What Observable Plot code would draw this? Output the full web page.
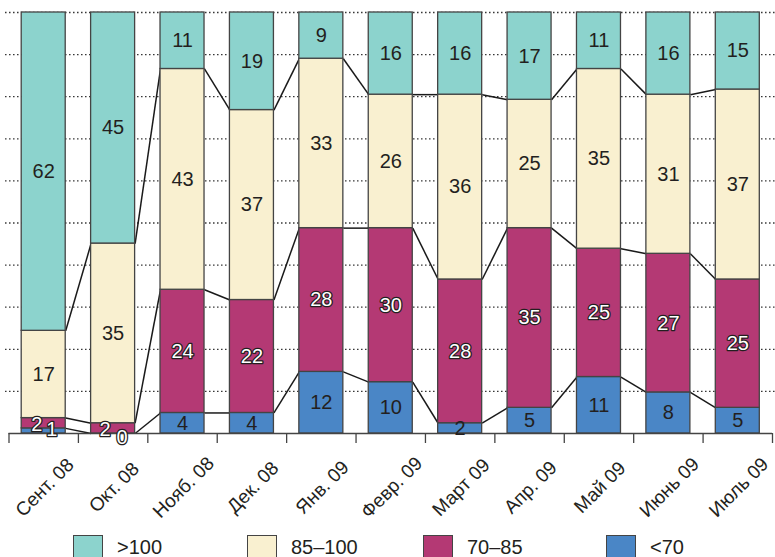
<!DOCTYPE html>
<html><head><meta charset="utf-8">
<script src="https://cdn.jsdelivr.net/npm/d3@7"></script>
<script src="https://cdn.jsdelivr.net/npm/@observablehq/plot@0.6"></script>
<style>
html,body{margin:0;padding:0;overflow:hidden;background:#fff;width:775px;height:557px;position:relative}
#chart{position:absolute;left:0;top:0}
#legend{position:absolute;top:535px;left:0;width:775px;height:40px;font-family:"Liberation Sans",Arial,sans-serif;font-size:20px;color:#231f20}
#legend .item{position:absolute;top:0;display:flex;align-items:flex-start}
#legend .sw{width:30px;height:30px;border:1.5px solid #444;box-sizing:border-box}
#legend .lb{margin-left:14px;line-height:24px}
</style>
</head><body>
<div id="chart"></div>
<div id="legend"></div>
<script>
const months = ["Сент. 08","Окт. 08","Нояб. 08","Дек. 08","Янв. 09","Февр. 09","Март 09","Апр. 09","Май 09","Июнь 09","Июль 09"];
const categories = [">100","85–100","70–85","<70"];
const below70     = [1, 0, 4, 4, 12, 10, 2, 5, 11, 8, 5];
const from70to85  = [2, 2, 24, 22, 28, 30, 28, 35, 25, 27, 25];
const from85to100 = [17, 35, 43, 37, 33, 26, 36, 25, 35, 31, 37];
const above100    = [62, 45, 11, 19, 9, 16, 16, 17, 11, 16, 15];

const colorRange = ["#8cd3cd", "#f9f0d0", "#b43974", "#4a86c6"];
const legendLeft = [73, 247, 423, 606];

const stackOrder = [["<70", below70], ["70–85", from70to85], ["85–100", from85to100], [">100", above100]];
const cum = [months.map(() => 0)];
const segments = [];
stackOrder.forEach(([cat, vals], k) => {
  const prev = cum[k];
  const next = prev.map((p, i) => p + vals[i]);
  cum.push(next);
  vals.forEach((v, i) => segments.push({i, cat, value: v, y1: prev[i], y2: next[i], mid: (prev[i] + next[i]) / 2}));
});
const yMax = d3.max(cum[cum.length - 1]);
const hw = 0.317;
const links = [];
for (let k = 1; k < cum.length - 1; k++)
  for (let i = 0; i < months.length - 1; i++)
    links.push({x1: i + hw, x2: i + 1 - hw, y1: cum[k][i], y2: cum[k][i + 1]});
const gridVals = d3.range(1, 11).map(j => yMax * j / 10);
const boundaries = d3.range(months.length + 1).map(j => j - 0.5);

// label nudges (pixels) for the crowded small segments
const nudges = [
  {key: "0|<70", dx: 8, dy: -1},
  {key: "0|70–85", dx: -7, dy: 1},
  {key: "1|70–85", dx: -8, dy: 1},
  {key: "1|<70", dx: 9, dy: 4}
];
const keyOf = d => d.i + "|" + d.cat;
const nudged = new Set(nudges.map(n => n.key));
const isHalo = d => d.cat === "70–85" || d.value <= 1;
const font = "'Liberation Sans', Arial, sans-serif";
const txtCol = "#231f20";
const fs = 20;

const labelMarks = [
  Plot.text(segments.filter(d => !nudged.has(keyOf(d)) && !isHalo(d)), {x: "i", y: "mid", text: d => String(d.value), fill: txtCol, fontSize: fs}),
  Plot.text(segments.filter(d => !nudged.has(keyOf(d)) && isHalo(d)), {x: "i", y: "mid", text: d => String(d.value), fill: "white", stroke: txtCol, strokeWidth: 2.5, paintOrder: "stroke", fontSize: fs}),
  ...nudges.map(n => Plot.text(segments.filter(d => keyOf(d) === n.key), {x: "i", y: "mid", text: d => String(d.value), dx: n.dx, dy: n.dy, fill: "white", stroke: txtCol, strokeWidth: 2.5, paintOrder: "stroke", fontSize: fs}))
];

const chart = Plot.plot({
  width: 775, height: 528,
  marginTop: 12, marginBottom: 95, marginLeft: 8.5, marginRight: 3,
  x: {domain: [-0.5, months.length - 0.5], axis: null},
  y: {domain: [0, yMax], axis: null},
  color: {domain: categories, range: colorRange},
  style: {fontFamily: font, background: "white", color: txtCol},
  marks: [
    Plot.ruleY(gridVals, {x1: -0.55, x2: months.length - 0.45, stroke: "#333", strokeDasharray: "1.5,2.5", strokeWidth: 1.3}),
    Plot.link(links, {x1: "x1", y1: "y1", x2: "x2", y2: "y2", stroke: "#1a1a1a", strokeWidth: 1.5}),
    Plot.rect(segments, {x1: d => d.i - hw, x2: d => d.i + hw, y1: "y1", y2: "y2", fill: "cat", stroke: "#444", strokeWidth: 1.3}),
    Plot.ruleY([0], {x1: -0.5, x2: months.length - 0.5, stroke: "#444", strokeWidth: 1.3}),
    Plot.axisX({ticks: boundaries, tickSize: 10, tickFormat: () => "", stroke: "#444", strokeWidth: 1.3}),
    ...labelMarks,
    Plot.text(months, {x: (d, i) => i, y: 0, text: d => d, rotate: -45, textAnchor: "middle", lineAnchor: "middle", dx: 1, dy: 54, fontSize: 19, fill: txtCol})
  ]
});
document.getElementById("chart").appendChild(chart);

const leg = document.getElementById("legend");
categories.forEach((c, k) => {
  const it = document.createElement("div");
  it.className = "item";
  it.style.left = legendLeft[k] + "px";
  const sw = document.createElement("div");
  sw.className = "sw";
  sw.style.background = colorRange[k];
  const lb = document.createElement("div");
  lb.className = "lb";
  lb.textContent = c;
  it.appendChild(sw); it.appendChild(lb);
  leg.appendChild(it);
});
</script>
</body></html>
